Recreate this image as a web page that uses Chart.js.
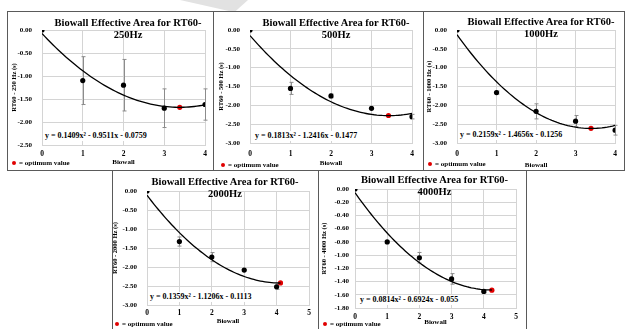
<!DOCTYPE html>
<html>
<head>
<meta charset="utf-8">
<script src="https://cdn.jsdelivr.net/npm/chart.js@4.4.1/dist/chart.umd.min.js"></script>
<style>
  body { margin: 0; background: #fff; }
  #page { position: relative; width: 627px; height: 329px; overflow: hidden; font-family: "Liberation Serif", "Times New Roman", serif; }
  .panel { position: absolute; }
  .rule { position: absolute; background: #5a5a5a; }
  .title { position: absolute; font-weight: bold; font-size: 10.5px; line-height: 12px; text-align: center; white-space: nowrap; transform: translateX(-50%); }
  .eq { position: absolute; background: #fff; font-weight: bold; font-size: 8px; line-height: 10px; padding: 0 2px; white-space: nowrap; }
  .legend { position: absolute; font-weight: bold; font-size: 7px; line-height: 8px; white-space: nowrap; }
  .legend span { display: inline-block; width: 4px; height: 4px; border-radius: 50%; background: #e00000; margin-right: 3px; vertical-align: 0px; }
  .mark { position: absolute; background: #e2e2e2; }
</style>
</head>
<body>
<div id="page"></div>
<script>
// data
var biowall = [0, 1, 2, 3, 4];
var freqs = ["250Hz", "500Hz", "1000Hz", "2000Hz", "4000Hz"];
var yTitles = ["RT60 - 250 Hz (s)", "RT60 - 500 Hz (s)", "RT60 - 1000 Hz (s)", "RT60 - 2000 Hz (s)", "RT60 - 4000 Hz (s)"];

var rt250 = [0, -1.10, -1.20, -1.70, -1.62];
var err250 = [0, 0.52, 0.56, 0.42, 0.34];
var rt500 = [0, -1.55, -1.75, -2.08, -2.30];
var err500 = [0, 0.16, 0.05, 0, 0.06];
var rt1000 = [0, -1.66, -2.16, -2.42, -2.66];
var err1000 = [0, 0.04, 0.20, 0.15, 0.13];
var rt2000 = [0, -1.33, -1.74, -2.08, -2.52];
var err2000 = [0, 0.12, 0.12, 0.02, 0.07];
var rt4000 = [0, -0.80, -1.04, -1.36, -1.55];
var err4000 = [0, 0.01, 0.08, 0.08, 0.02];

// trendline y = a x^2 + b x + c, as printed on each chart
var trendCoef = [
  [0.1409, -0.9511, -0.0759],
  [0.1813, -1.2416, -0.1477],
  [0.2159, -1.4656, -0.1256],
  [0.1359, -1.1206, -0.1113],
  [0.0814, -0.6924, -0.055]
];
var equations = [
  "y = 0.1409x\u00b2 - 0.9511x - 0.0759",
  "y = 0.1813x\u00b2 - 1.2416x - 0.1477",
  "y = 0.2159x\u00b2 - 1.4656x - 0.1256",
  "y = 0.1359x\u00b2 - 1.1206x - 0.1113",
  "y = 0.0814x\u00b2 - 0.6924x - 0.055"
];
var trendEnd = [4, 4, 4, 4.12, 4.25];
var optimumX = [3.38, 3.42, 3.39, 4.12, 4.25];
var optimumY = [-1.68, -2.27, -2.61, -2.42, -1.53];

var yMin = [-2.5, -3, -3, -3, -1.8];
var yStep = [0.5, 0.5, 0.5, 0.5, 0.2];
var xMax = [4, 4, 4, 5, 5];

var seriesY = [rt250, rt500, rt1000, rt2000, rt4000];
var seriesErr = [err250, err500, err1000, err2000, err4000];

// where each panel sits on the page
var panels = [
  { left: 8, top: 12, w: 205, h: 158, padTop: 18, padRight: 8, yW: 34, xH: 25, yTickPad: 10, xTickPad: 5, xTitlePad: 4, yTitlePad: 2, titleX: 128, titleY: 17, eqX: 45, eqY: 131, legX: 12, legY: 159 },
  { left: 214, top: 12, w: 209, h: 158, padTop: 18, padRight: 11, yW: 36, xH: 27, yTickPad: 10, xTickPad: 7, xTitlePad: 3, yTitlePad: 3, titleX: 336, titleY: 17, eqX: 255, eqY: 131, legX: 221, legY: 161 },
  { left: 424, top: 12, w: 200, h: 158, padTop: 18, padRight: 4, yW: 33, xH: 27, yTickPad: 10, xTickPad: 7, xTitlePad: 1, yTitlePad: 1, titleX: 541, titleY: 16, eqX: 460, eqY: 130, legX: 428, legY: 160 },
  { left: 113, top: 171, w: 205, h: 158, padTop: 20, padRight: 9, yW: 34, xH: 24, yTickPad: 10, xTickPad: 4, xTitlePad: 4, yTitlePad: -2, titleX: 225, titleY: 176, eqX: 150, eqY: 292, legX: 115, legY: 320 },
  { left: 319, top: 171, w: 207, h: 158, padTop: 18, padRight: 10, yW: 36, xH: 21, yTickPad: 6, xTickPad: 5, xTitlePad: 3, yTitlePad: 1, titleX: 434.5, titleY: 174, eqX: 360, eqY: 295, legX: 323, legY: 320 }
];

var page = document.getElementById("page");

function addDiv(cls, css, text) {
  var d = document.createElement("div");
  d.className = cls;
  Object.assign(d.style, css);
  if (text !== undefined) d.textContent = text;
  page.appendChild(d);
  return d;
}

// faint mark at the top of the scan
addDiv("mark", { left: "180px", top: "0px", width: "68px", height: "11px", clipPath: "polygon(0 0, 100% 0, 82% 100%, 72% 100%)" });

// box rules
addDiv("rule", { left: "7px", top: "11px", width: "618px", height: "1px" });
addDiv("rule", { left: "7px", top: "170px", width: "618px", height: "1px" });
[7, 213, 423, 624].forEach(function (x) {
  addDiv("rule", { left: x + "px", top: "11px", width: "1px", height: "160px" });
});
[112, 318, 526].forEach(function (x) {
  addDiv("rule", { left: x + "px", top: "170px", width: "1px", height: "160px" });
});

var fontFam = "'Liberation Serif', 'Times New Roman', serif";
var gridColor = "#d4d4d4";

// error bars drawn under the points
var errorBars = {
  id: "errorBars",
  beforeDatasetsDraw: function (chart) {
    var ctx = chart.ctx;
    var ys = chart.scales.y;
    chart.data.datasets.forEach(function (ds, i) {
      if (!ds.errors) return;
      var meta = chart.getDatasetMeta(i);
      ctx.save();
      ctx.strokeStyle = "#8c8c8c";
      ctx.lineWidth = 1;
      meta.data.forEach(function (pt, j) {
        var e = ds.errors[j];
        if (!e) return;
        var v = ds.data[j].y;
        var y1 = ys.getPixelForValue(v + e);
        var y2 = ys.getPixelForValue(v - e);
        var x = Math.round(pt.x) + 0.5;
        ctx.beginPath();
        ctx.moveTo(x, y1);
        ctx.lineTo(x, y2);
        ctx.moveTo(x - 2, y1);
        ctx.lineTo(x + 2, y1);
        ctx.moveTo(x - 2, y2);
        ctx.lineTo(x + 2, y2);
        ctx.stroke();
      });
      ctx.restore();
    });
  }
};

panels.forEach(function (p, k) {
  var holder = addDiv("panel", { left: p.left + "px", top: p.top + "px", width: p.w + "px", height: p.h + "px" });
  var canvas = document.createElement("canvas");
  canvas.width = p.w;
  canvas.height = p.h;
  canvas.style.width = p.w + "px";
  canvas.style.height = p.h + "px";
  holder.appendChild(canvas);

  var pts = biowall.map(function (x, j) { return { x: x, y: seriesY[k][j] }; });
  var c = trendCoef[k];
  var curve = [];
  for (var s = 0; s <= 60; s++) {
    var x = trendEnd[k] * s / 60;
    curve.push({ x: x, y: c[0] * x * x + c[1] * x + c[2] });
  }

  new Chart(canvas, {
    type: "scatter",
    data: {
      datasets: [
        {
          data: curve,
          showLine: true,
          pointRadius: 0,
          borderColor: "#000",
          borderWidth: 1.3,
          tension: 0
        },
        {
          data: pts,
          errors: seriesErr[k],
          pointRadius: 2.6,
          backgroundColor: "#000",
          borderColor: "#000",
          borderWidth: 0
        },
        {
          data: [{ x: optimumX[k], y: optimumY[k] }],
          pointRadius: 2.6,
          backgroundColor: "#e00000",
          borderColor: "#e00000",
          borderWidth: 0
        }
      ]
    },
    options: {
      responsive: false,
      animation: false,
      devicePixelRatio: 1,
      layout: { padding: { top: p.padTop, right: p.padRight, left: 0, bottom: 0 } },
      plugins: { legend: { display: false }, tooltip: { enabled: false } },
      scales: {
        x: {
          type: "linear",
          min: 0,
          max: xMax[k],
          afterFit: function (scale) { scale.height = p.xH; },
          ticks: { stepSize: 1, padding: p.xTickPad, color: "#000", font: { family: fontFam, size: 7.5, weight: "bold" } },
          grid: { color: gridColor, drawTicks: false },
          border: { color: gridColor },
          title: { display: true, text: "Biowall", color: "#000", padding: { top: 0, bottom: p.xTitlePad }, font: { family: fontFam, size: 7, weight: "bold" } }
        },
        y: {
          min: yMin[k],
          max: 0,
          afterFit: function (scale) { scale.width = p.yW; },
          ticks: {
            stepSize: yStep[k],
            padding: p.yTickPad,
            color: "#000",
            font: { family: fontFam, size: 7, weight: "bold" },
            callback: function (v) { return (Math.abs(v) < 1e-9 ? 0 : v).toFixed(2); }
          },
          grid: { color: gridColor, drawTicks: false },
          border: { color: gridColor },
          title: { display: true, text: yTitles[k], color: "#000", padding: { top: p.yTitlePad, bottom: 0 }, font: { family: fontFam, size: 6.5, weight: "bold" } }
        }
      }
    },
    plugins: [errorBars]
  });

  // chart title, sitting over the plot
  var t = addDiv("title", { left: p.titleX + "px", top: p.titleY + "px" });
  t.innerHTML = "Biowall Effective Area for RT60-<br>" + freqs[k];

  addDiv("eq", { left: (p.eqX - 2) + "px", top: p.eqY + "px" }, equations[k]);

  var lg = addDiv("legend", { left: p.legX + "px", top: p.legY + "px" });
  var dot = document.createElement("span");
  lg.appendChild(dot);
  lg.appendChild(document.createTextNode("= optimum value"));
});
</script>
</body>
</html>
